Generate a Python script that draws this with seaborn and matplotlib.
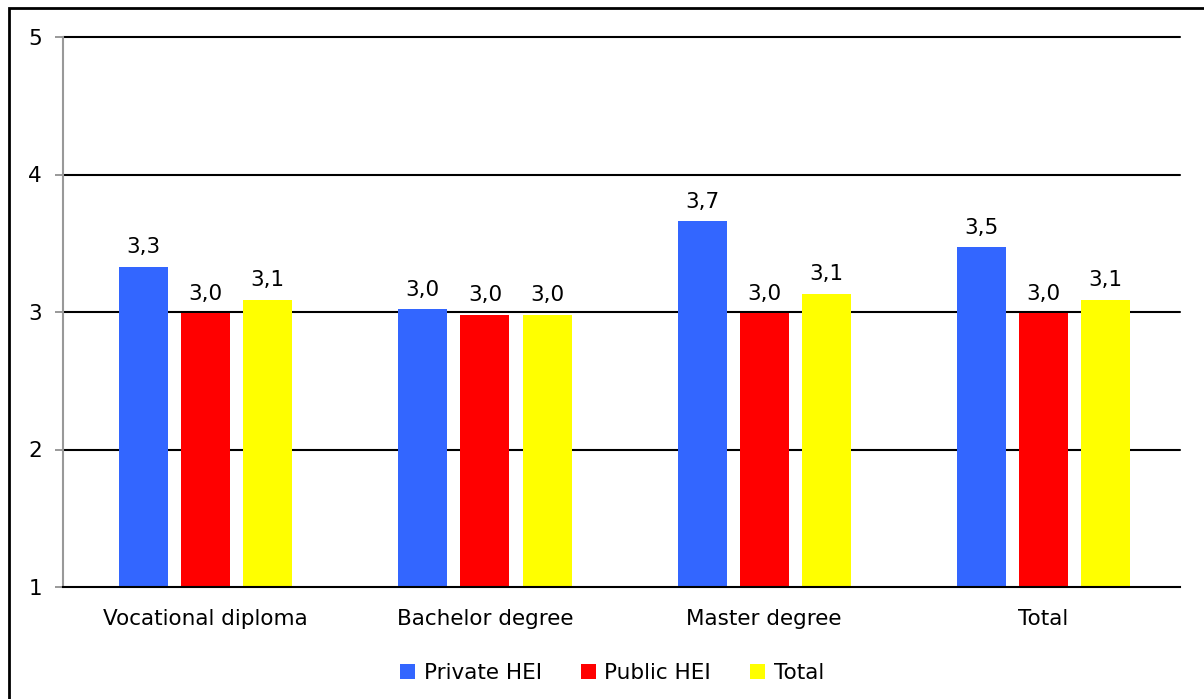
import pandas as pd
import matplotlib.pyplot as plt
import seaborn as sns
from matplotlib.patches import Rectangle

# data
categories = ['Vocational diploma', 'Bachelor degree', 'Master degree', 'Total']
series = ['Private HEI', 'Public HEI', 'Total']
private_hei = [3.33, 3.02, 3.66, 3.47]
public_hei = [2.99, 2.98, 2.99, 2.99]
total = [3.09, 2.98, 3.13, 3.09]
y_ticks = [1, 2, 3, 4, 5]

df = pd.DataFrame({
    'cat': categories * 3,
    'grp': [series[0]] * 4 + [series[1]] * 4 + [series[2]] * 4,
    'val': private_hei + public_hei + total,
})

sns.set_style('white')
plt.rcParams['font.family'] = ['DejaVu Sans']
plt.rcParams['text.color'] = 'black'
plt.rcParams['xtick.color'] = 'black'
plt.rcParams['ytick.color'] = 'black'
fs = 15.5
my_cols = {'Private HEI': '#3366FF', 'Public HEI': '#FF0000', 'Total': '#FFFF00'}

fig = plt.figure(figsize=(12.04, 6.99), dpi=100)
ax = fig.add_axes([63 / 1204, 1 - 587 / 699, 1117 / 1204, 550 / 699])

sns.barplot(data=df, x='cat', y='val', hue='grp', order=categories, hue_order=series,
            palette=my_cols, width=0.667, gap=0.21, saturation=1, linewidth=0,
            zorder=2, ax=ax)

for c in ax.containers:
    labels = [f'{v:.1f}'.replace('.', ',') for v in c.datavalues]
    ax.bar_label(c, labels=labels, padding=7, fontsize=fs, color='black')

ax.set_ylim(1, 5)
ax.set_yticks(y_ticks)
ax.set_xlim(-0.511, 3.489)
for y in y_ticks[1:]:
    ax.axhline(y, color='black', lw=1.5, zorder=1, clip_on=False)
ax.set(xlabel=None, ylabel=None)
ax.tick_params(axis='y', length=6, color='#888888', width=1.2, pad=9, labelsize=fs, left=True)
ax.tick_params(axis='x', length=0, pad=16, labelsize=fs)
for s in ['top', 'right']:
    ax.spines[s].set_visible(False)
ax.spines['left'].set_color('#999999')
ax.spines['left'].set_linewidth(1.5)
ax.spines['bottom'].set_color('black')
ax.spines['bottom'].set_linewidth(1.5)
ax.spines['bottom'].set_zorder(3)

ax.legend(loc='center', bbox_to_anchor=(612 / 1204, 1 - 673 / 699),
          bbox_transform=fig.transFigure, ncol=3, frameon=False, fontsize=fs,
          handlelength=0.7, handleheight=0.7, handletextpad=0.4, columnspacing=1.8)

# outer frame of the chart area
fig.patches.append(Rectangle((9 / 1204, -0.05), 1.2, 1 - 8 / 699 + 0.05,
                             transform=fig.transFigure, fill=False, edgecolor='black', lw=2))

plt.savefig('out.png', dpi=100)
